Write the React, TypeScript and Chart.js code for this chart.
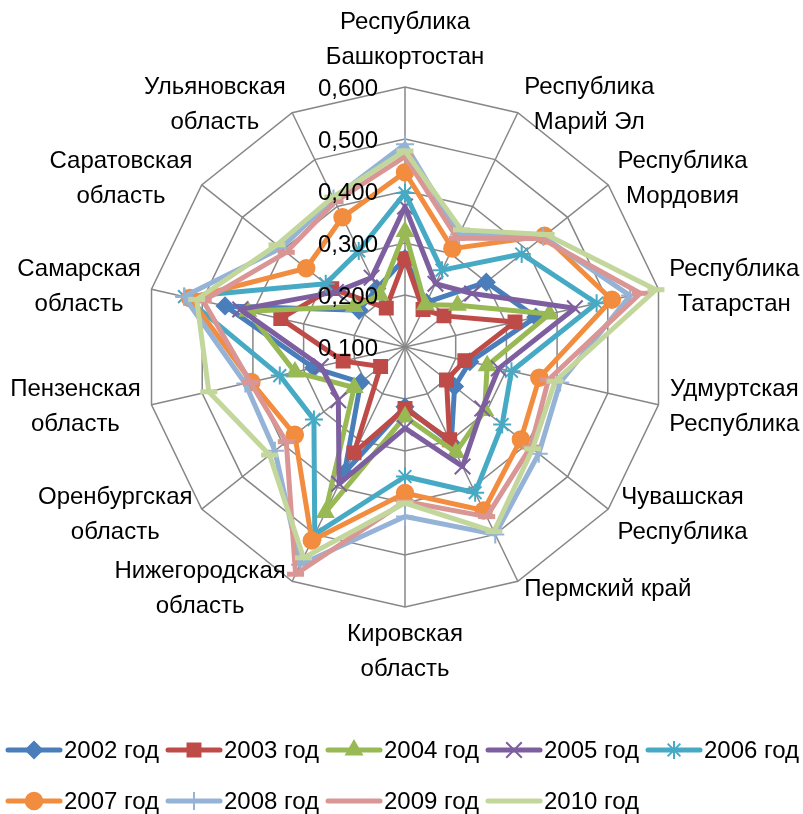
import React, { useEffect, useRef } from 'react';
import { Chart, registerables } from 'chart.js';
import { drawPoint } from 'chart.js/helpers';

Chart.register(...registerables);

const categories: string[][] = [
  ['Республика', 'Башкортостан'],
  ['Республика', 'Марий Эл'],
  ['Республика', 'Мордовия'],
  ['Республика', 'Татарстан'],
  ['Удмуртская', 'Республика'],
  ['Чувашская', 'Республика'],
  ['Пермский край'],
  ['Кировская', 'область'],
  ['Нижегородская', 'область'],
  ['Оренбургская', 'область'],
  ['Пензенская', 'область'],
  ['Самарская', 'область'],
  ['Саратовская', 'область'],
  ['Ульяновская', 'область'],
];

const seriesNames = ['2002 год', '2003 год', '2004 год', '2005 год', '2006 год', '2007 год', '2008 год', '2009 год', '2010 год'];

const d2002 = [0.270, 0.195, 0.300, 0.358, 0.228, 0.222, 0.305, 0.215, 0.368, 0.209, 0.280, 0.455, 0.213, 0.225];
const d2003 = [0.270, 0.180, 0.196, 0.317, 0.218, 0.202, 0.298, 0.218, 0.326, 0.160, 0.222, 0.345, 0.280, 0.183];
const d2004 = [0.322, 0.190, 0.229, 0.385, 0.262, 0.296, 0.325, 0.234, 0.453, 0.225, 0.317, 0.410, 0.225, 0.211];
const d2005 = [0.370, 0.235, 0.265, 0.435, 0.285, 0.290, 0.355, 0.256, 0.392, 0.264, 0.266, 0.425, 0.270, 0.248];
const d2006 = [0.396, 0.264, 0.387, 0.478, 0.310, 0.339, 0.411, 0.349, 0.500, 0.324, 0.347, 0.535, 0.295, 0.305];
const d2007 = [0.436, 0.310, 0.443, 0.508, 0.365, 0.385, 0.449, 0.381, 0.513, 0.371, 0.403, 0.524, 0.343, 0.377];
const d2008 = [0.490, 0.340, 0.440, 0.544, 0.406, 0.429, 0.500, 0.426, 0.565, 0.420, 0.415, 0.536, 0.405, 0.417];
const d2009 = [0.466, 0.332, 0.435, 0.564, 0.383, 0.409, 0.462, 0.397, 0.585, 0.392, 0.405, 0.498, 0.392, 0.410];
const d2010 = [0.477, 0.350, 0.447, 0.595, 0.396, 0.414, 0.494, 0.400, 0.550, 0.433, 0.487, 0.511, 0.415, 0.420];

const seriesData = [d2002, d2003, d2004, d2005, d2006, d2007, d2008, d2009, d2010];
const seriesColors = ['#4A7EBB', '#BE4B48', '#98B954', '#7D5FA0', '#46AAC5', '#F28C3E', '#95B3D7', '#D99694', '#C3D69B'];
const seriesMarkers = ['rectRot', 'rect', 'triangle', 'crossRot', 'star', 'circle', 'cross', 'line', 'line'];
const markerRadius = [8.5, 9.5, 9.5, 11, 9, 8.5, 9, 8.5, 8.5];
const markerBorder = [1.5, 1.5, 1.5, 2, 2, 1.5, 2, 5, 5];

const tickValues = [0.1, 0.2, 0.3, 0.4, 0.5, 0.6];
const fmtTick = (v: number) => v.toFixed(3).replace('.', ',');

const FONT = '24px "Liberation Sans", Arial, sans-serif';

const labelPlugin = {
  id: 'customLabels',
  afterDatasetsDraw(chart: any) {
    const scale = chart.scales.r;
    const ctx = chart.ctx as CanvasRenderingContext2D;
    ctx.save();
    ctx.font = FONT;
    ctx.fillStyle = '#000';
    ctx.textBaseline = 'middle';
    // tick labels
    ctx.textAlign = 'right';
    tickValues.forEach((v) => {
      const d = scale.getDistanceFromCenterForValue(v);
      ctx.fillText(fmtTick(v), scale.xCenter - 27, scale.yCenter - d + 2);
    });
    // category labels
    const n = categories.length;
    ctx.textAlign = 'center';
    categories.forEach((lines, i) => {
      const p = scale.getPointPosition(i, scale.drawingArea);
      const ang = (i * 2 * Math.PI) / n;
      const s = Math.sin(ang);
      const c = Math.cos(ang);
      const maxW = Math.max(...lines.map((l) => ctx.measureText(l).width));
      const lh = 35;
      const h = lines.length * lh;
      let cx: number;
      let cy: number;
      if (Math.abs(s) < 0.01) {
        cx = p.x;
        cy = c > 0 ? p.y - 12 - h / 2 : p.y + 10 + h / 2;
      } else {
        const gap = 3 + 8 * Math.abs(s);
        cx = s > 0 ? p.x + gap + maxW / 2 : p.x - gap - maxW / 2;
        cy = p.y - 9 * c;
      }
      lines.forEach((l, j) => {
        ctx.fillText(l, cx, cy - h / 2 + lh / 2 + j * lh);
      });
    });
    ctx.restore();
  },
  afterDraw(chart: any) {
    const ctx = chart.ctx as CanvasRenderingContext2D;
    ctx.save();
    ctx.font = FONT;
    ctx.textBaseline = 'middle';
    ctx.textAlign = 'left';
    chart.data.datasets.forEach((ds: any, i: number) => {
      const col = i % 5;
      const row = Math.floor(i / 5);
      const x0 = 8 + col * 160;
      const y = 750 + row * 51;
      ctx.strokeStyle = ds.borderColor;
      ctx.lineWidth = 5;
      ctx.lineCap = 'round';
      ctx.beginPath();
      ctx.moveTo(x0, y);
      ctx.lineTo(x0 + 52, y);
      ctx.stroke();
      ctx.lineCap = 'butt';
      ctx.fillStyle = ds.pointBackgroundColor;
      ctx.strokeStyle = ds.pointBorderColor;
      ctx.lineWidth = ds.pointBorderWidth;
      if (ds.pointStyle !== 'line') {
        drawPoint(ctx, { pointStyle: ds.pointStyle, radius: ds.pointRadius, rotation: 0, borderWidth: ds.pointBorderWidth } as any, x0 + 26, y);
      }
      ctx.fillStyle = '#000';
      ctx.fillText(ds.label, x0 + 56, y + 1);
    });
    ctx.restore();
  },
};

export default function App() {
  const ref = useRef<HTMLCanvasElement | null>(null);
  useEffect(() => {
    if (!ref.current) return;
    const chart = new Chart(ref.current, {
      type: 'radar',
      data: {
        labels: categories,
        datasets: seriesData.map((d, i) => ({
          label: seriesNames[i],
          data: d,
          borderColor: seriesColors[i],
          backgroundColor: seriesColors[i],
          borderWidth: 5,
          borderJoinStyle: 'round' as const,
          fill: false,
          pointStyle: seriesMarkers[i] as any,
          pointRadius: markerRadius[i],
          pointBorderWidth: markerBorder[i],
          pointBackgroundColor: seriesColors[i],
          pointBorderColor: seriesColors[i],
          order: seriesData.length - 1 - i,
        })),
      },
      options: {
        responsive: false,
        animation: false,
        devicePixelRatio: 1,
        layout: { padding: { left: 145, right: 138, top: 87, bottom: 207 } },
        plugins: { legend: { display: false }, tooltip: { enabled: false } },
        scales: {
          r: {
            min: 0.1,
            max: 0.6,
            beginAtZero: false,
            ticks: { display: false, stepSize: 0.1 },
            pointLabels: { display: false },
            grid: { color: '#878787', lineWidth: 1.5 },
            angleLines: { color: '#878787', lineWidth: 1.5 },
          },
        },
      },
      plugins: [labelPlugin],
    });
    return () => chart.destroy();
  }, []);
  return (
    <div style={{ position: 'absolute', left: 0, top: 0, width: 803, height: 814, background: '#fff' }}>
      <canvas ref={ref} width={803} height={814} style={{ display: 'block', width: 803, height: 814 }} />
    </div>
  );
}
